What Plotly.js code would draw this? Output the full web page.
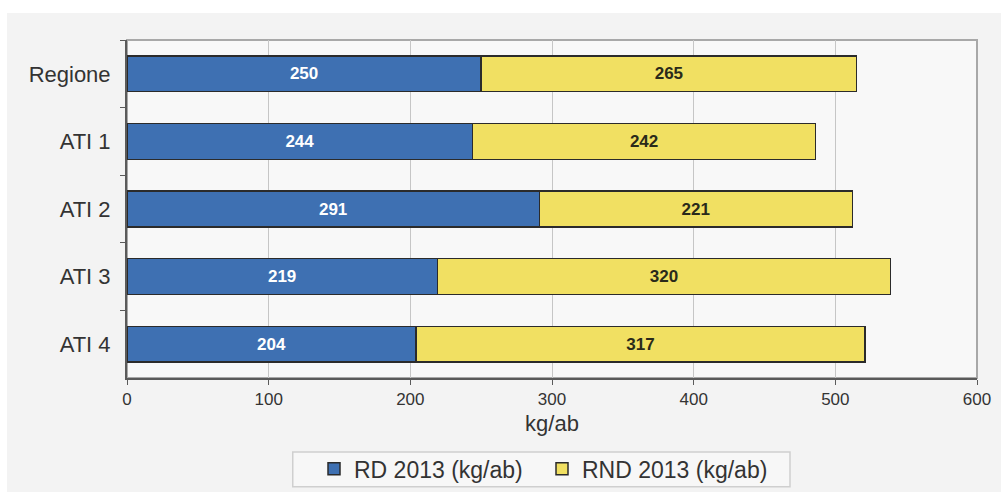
<!DOCTYPE html>
<html>
<head>
<meta charset="utf-8">
<script src="https://cdn.plot.ly/plotly-3.0.1.min.js"></script>
<style>
  html, body { margin: 0; padding: 0; background: #ffffff; }
  #chart { position: absolute; left: 7px; top: 13px; width: 994px; height: 479px; }
</style>
</head>
<body>
<div id="chart"></div>
<script>
// Rifiuti differenziati (RD) e non differenziati (RND), 2013, kg per abitante
const categories = ["Regione", "ATI 1", "ATI 2", "ATI 3", "ATI 4"];
const rdValues = [250, 244, 291, 219, 204];
const rndValues = [265, 242, 221, 320, 317];
const seriesNames = ["RD 2013 (kg/ab)", "RND 2013 (kg/ab)"];
const xTicks = [0, 100, 200, 300, 400, 500, 600];

const FONT = "Liberation Sans, Arial, sans-serif";

const traces = [
  {
    type: "bar",
    orientation: "h",
    name: seriesNames[0],
    y: categories,
    x: rdValues,
    text: rdValues.map(String),
    textposition: "inside",
    insidetextanchor: "middle",
    textangle: 0,
    textfont: { family: FONT, size: 17, color: "#ffffff", weight: "bold" },
    marker: { color: "#3e70b2", line: { color: "#2b2b2b", width: 1.5 } },
    hoverinfo: "x+y"
  },
  {
    type: "bar",
    orientation: "h",
    name: seriesNames[1],
    y: categories,
    x: rndValues,
    text: rndValues.map(String),
    textposition: "inside",
    insidetextanchor: "middle",
    textangle: 0,
    textfont: { family: FONT, size: 17, color: "#2a2a1a", weight: "bold" },
    marker: { color: "#f1e062", line: { color: "#2b2b2b", width: 1.5 } },
    hoverinfo: "x+y"
  }
];

const layout = {
  width: 994,
  height: 479,
  margin: { l: 120, r: 24, t: 27, b: 114, autoexpand: false },
  paper_bgcolor: "#f3f3f3",
  plot_bgcolor: "#f8f8f8",
  barmode: "stack",
  bargap: 0.47,
  font: { family: FONT, color: "#333333" },
  showlegend: true,
  legend: {
    orientation: "h",
    x: 0.2200,
    xanchor: "left",
    y: -0.205,
    yanchor: "top",
    bgcolor: "rgba(0,0,0,0)",
    borderwidth: 0,
    entrywidth: 183,
    font: { family: FONT, size: 23, color: "#333333" },
    traceorder: "normal"
  },
  xaxis: {
    range: [0, 600],
    tickvals: xTicks,
    ticktext: xTicks.map(String),
    showgrid: true,
    gridcolor: "#c6c6c6",
    gridwidth: 1,
    zeroline: false,
    showline: true,
    linecolor: "#5a5a5a",
    linewidth: 2,
    ticks: "outside",
    ticklen: 5,
    tickcolor: "#5a5a5a",
    tickfont: { family: FONT, size: 17, color: "#333333" },
    title: { text: "kg/ab", font: { family: FONT, size: 22, color: "#333333" }, standoff: 7 },
    fixedrange: true
  },
  yaxis: {
    autorange: "reversed",
    type: "category",
    showgrid: false,
    zeroline: false,
    showline: true,
    linecolor: "#5a5a5a",
    linewidth: 2,
    ticks: "outside",
    tickson: "boundaries",
    ticklen: 5,
    tickcolor: "#5a5a5a",
    ticklabelstandoff: 10,
    tickfont: { family: FONT, size: 22, color: "#333333" },
    fixedrange: true
  },
  shapes: [
    // light frame on the top and right of the plot area
    {
      type: "rect", xref: "paper", yref: "paper",
      x0: 0, x1: 1, y0: 0, y1: 1,
      line: { color: "#a8a8a8", width: 2 },
      layer: "below"
    },
    // legend box
    {
      type: "rect", xref: "paper", yref: "paper",
      x0: 0.195, x1: 0.78, y0: -0.219, y1: -0.322,
      line: { color: "#cfcfcf", width: 1.5 },
      fillcolor: "#f7f7f7",
      layer: "below"
    }
  ]
};

Plotly.newPlot("chart", traces, layout, { displayModeBar: false, staticPlot: true });
</script>
</body>
</html>
